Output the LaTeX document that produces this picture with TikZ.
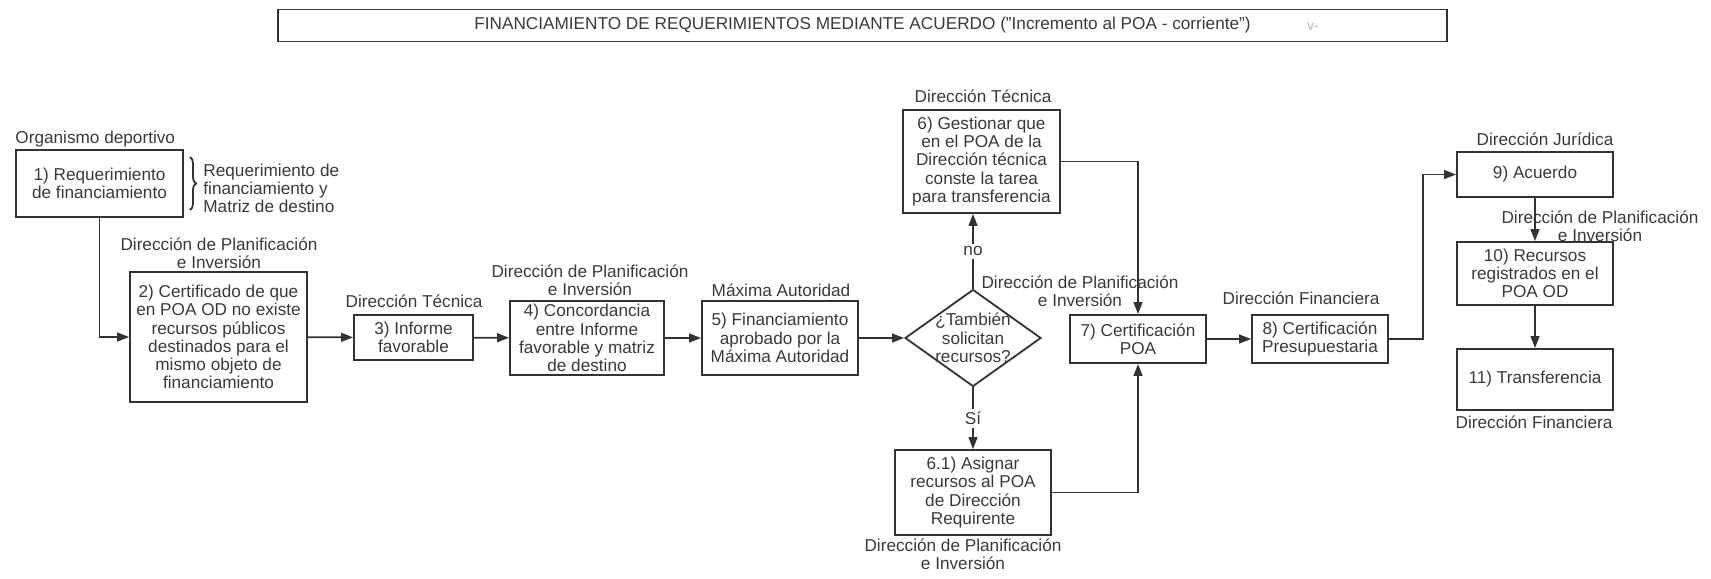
\documentclass[tikz,border=0pt]{standalone}
\usepackage{fontspec}
\setmainfont{Liberation Sans}
\usetikzlibrary{arrows.meta,shapes.geometric,decorations.pathreplacing}
\definecolor{ink}{HTML}{333333}
\definecolor{txt}{HTML}{3A3A3A}
\begin{document}
\begin{tikzpicture}[x=0.5pt,y=-0.5pt,
  every node/.style={text=txt, font=\fontsize{8.6}{9.15}\selectfont},
  stepbox/.style={draw=ink, line width=0.9pt, align=center, inner sep=0pt},
  lbl/.style={align=center, inner sep=0pt},
  arr/.style={draw=ink, line width=0.9pt, -{Triangle[length=6pt,width=4.4pt]}},
  plain/.style={draw=ink, line width=0.9pt}]
\useasboundingbox (0,0) rectangle (1711,578);

% title
\node[stepbox, line width=0.7pt, minimum width=584.5pt, minimum height=16pt, font=\fontsize{8.6}{9}\selectfont] (title) at (862.5,25.5)
  {FINANCIAMIENTO DE REQUERIMIENTOS MEDIANTE ACUERDO ("Incremento al POA - corriente")};
\node[lbl, text=gray!55, font=\fontsize{7}{7}\selectfont] (stray) at (1313,27) {v-};

% boxes
\node[stepbox, minimum width=83.5pt, minimum height=33.5pt] (b1) at (99.5,183.5) {1) Requerimiento\\de financiamiento};
\node[stepbox, minimum width=88.5pt, minimum height=65pt] (b2) at (218.5,337) {2) Certificado de que\\en POA OD no existe\\recursos públicos\\destinados para el\\mismo objeto de\\financiamiento};
\node[stepbox, minimum width=59.5pt, minimum height=22.5pt] (b3) at (413.5,337.5) {3) Informe\\favorable};
\node[stepbox, minimum width=77pt, minimum height=37pt] (b4) at (587,338) {4) Concordancia\\entre Informe\\favorable y matriz\\de destino};
\node[stepbox, minimum width=78pt, minimum height=37pt] (b5) at (780,338) {5) Financiamiento\\aprobado por la\\Máxima Autoridad};
\node[draw=ink, line width=0.9pt, diamond, minimum width=68pt, minimum height=48.5pt, inner sep=0pt] (d) at (973,338) {};
\node[lbl] (dt) at (973,338) {¿También\\solicitan\\recursos?};
\node[stepbox, minimum width=78.5pt, minimum height=51.5pt] (b6) at (981.5,161.5) {6) Gestionar que\\en el POA de la\\Dirección técnica\\conste la tarea\\para transferencia};
\node[stepbox, minimum width=78pt, minimum height=42.5pt] (b61) at (973,492.5) {6.1) Asignar\\recursos al POA\\de Dirección\\Requirente};
\node[stepbox, minimum width=68pt, minimum height=24pt] (b7) at (1138,339) {7) Certificación\\POA};
\node[stepbox, minimum width=68pt, minimum height=24pt] (b8) at (1320,339) {8) Certificación\\Presupuestaria};
\node[stepbox, minimum width=78pt, minimum height=22.5pt] (b9) at (1535,174.5) {9) Acuerdo};
\node[stepbox, minimum width=78pt, minimum height=31.5pt] (b10) at (1535,273.5) {10) Recursos\\registrados en el\\POA OD};
\node[stepbox, minimum width=78pt, minimum height=30.5pt] (b11) at (1535,379.5) {11) Transferencia};

% labels
\node[lbl, anchor=west] (l1) at (15,139) {Organismo deportivo};
\draw[plain, decorate, decoration={brace, amplitude=3pt}] (190,157) -- (190,210);
\node[lbl, anchor=west, align=left] (l1b) at (203,188.5) {Requerimiento de\\financiamiento y\\Matriz de destino};
\node[lbl] (l2) at (219,253.5) {Dirección de Planificación\\e Inversión};
\node[lbl] (l3) at (414,301) {Dirección Técnica};
\node[lbl] (l4) at (590,280) {Dirección de Planificación\\e Inversión};
\node[lbl] (l5) at (781,290) {Máxima Autoridad};
\node[lbl] (l6) at (983,96) {Dirección Técnica};
\node[lbl] (l61) at (963,554.5) {Dirección de Planificación\\e Inversión};
\node[lbl] (l7) at (1080,291.5) {Dirección de Planificación\\e Inversión};
\node[lbl] (l8) at (1301,298) {Dirección Financiera};
\node[lbl] (l9) at (1545,139) {Dirección Jurídica};
\node[lbl] (l10) at (1600,226) {Dirección de Planificación\\e Inversión};
\node[lbl] (l11) at (1534,422) {Dirección Financiera};

% connectors
\draw[arr] (b1.south) |- (b2.west);
\draw[arr] (b2) -- (b3);
\draw[arr] (b3) -- (b4);
\draw[arr] (b4) -- (b5);
\draw[arr] (b5) -- (d.west);
\draw[arr] (d.north) -- node[fill=white, inner sep=1.5pt] (no) {no} (d.north |- b6.south);
\draw[arr] (d.south) -- node[fill=white, inner sep=1.5pt] (si) {Sí} (b61.north);
\draw[arr] (b6.east) -| (b7.north);
\draw[arr] (b61.east) -| (b7.south);
\draw[arr] (b7) -- (b8);
\coordinate (k) at (1423,339);
\draw[arr] (b8.east) -- (k) |- (b9.west);
\draw[arr] (b9) -- (b10);
\draw[arr] (b10) -- (b11);
\end{tikzpicture}
\end{document}
